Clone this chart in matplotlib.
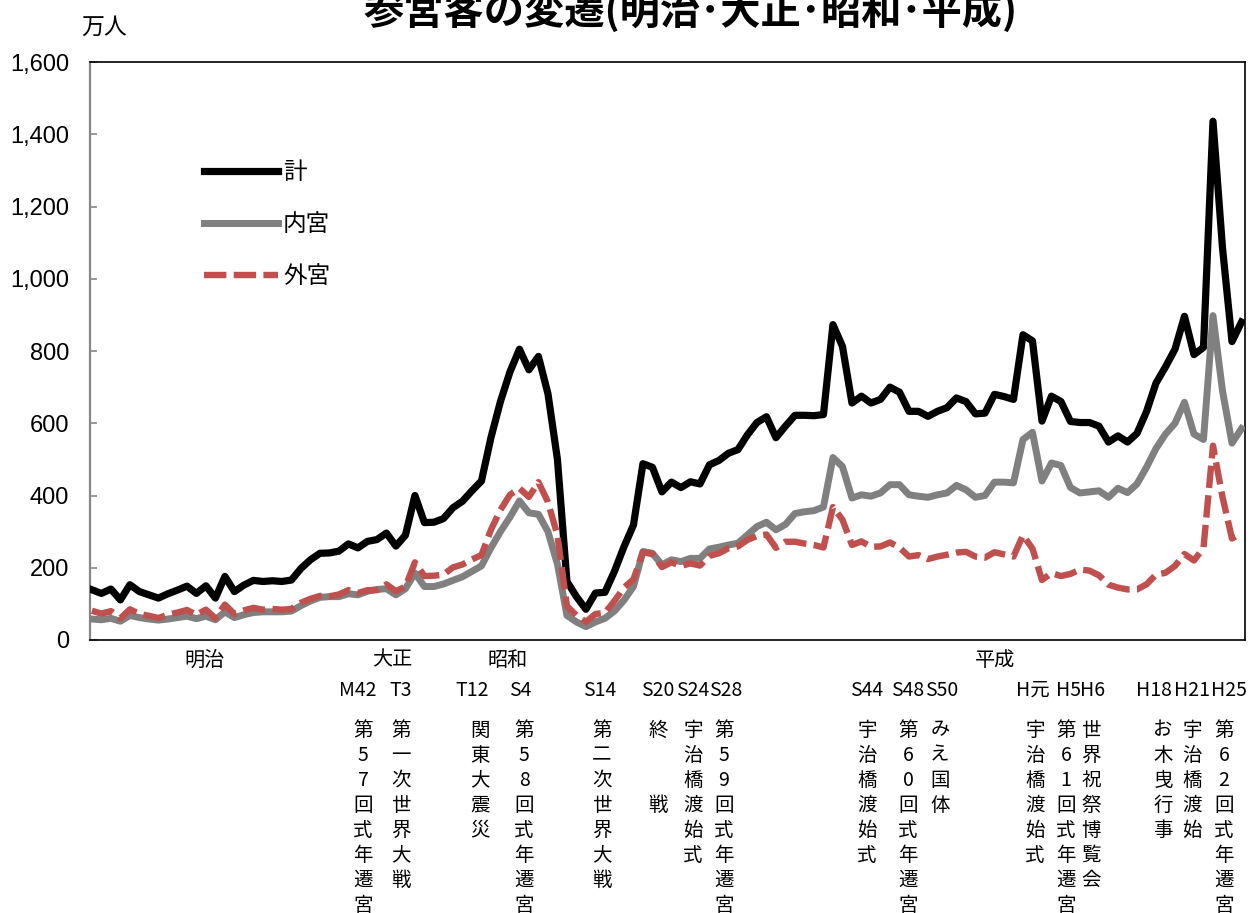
import matplotlib
matplotlib.use("Agg")
import matplotlib.pyplot as plt

CJK = ["Noto Sans CJK JP", "DejaVu Sans"]
plt.rcParams["font.family"] = CJK

# data: visitors per year (万人), 1895 (M28) .. 2016 (H28)
years = list(range(1895, 2017))

total = [
    139, 129, 141, 111, 153, 134, 125, 116, 128, 138,
    149, 129, 150, 116, 176, 134, 152, 165, 162, 164,
    162, 166, 198, 222, 240, 241, 246, 266, 255, 273,
    278, 296, 260, 290, 400, 325, 326, 336, 366, 384,
    413, 440, 560, 660, 742, 805, 748, 785, 682, 500,
    162, 120, 85, 130, 132, 190, 258, 318, 488, 478,
    410, 437, 422, 438, 432, 485, 497, 517, 527, 568,
    602, 618, 560, 592, 622, 622, 621, 624, 873, 813,
    656, 675, 656, 666, 700, 686, 633, 633, 619, 633,
    643, 670, 660, 626, 628, 680, 674, 666, 845, 828,
    606, 675, 660, 605, 602, 602, 592, 548, 565, 548,
    572, 632, 711, 756, 805, 896, 790, 810, 1436, 1086,
    826, 880,
]

naiku = [
    58, 56, 60, 52, 68, 62, 58, 55, 58, 62,
    66, 59, 66, 56, 78, 62, 70, 76, 78, 78,
    78, 80, 95, 108, 118, 120, 120, 128, 125, 135,
    140, 142, 125, 142, 185, 148, 148, 155, 165, 175,
    190, 205, 255, 300, 340, 385, 352, 348, 300, 210,
    68, 50, 37, 50, 60, 80, 110, 148, 245, 240,
    208, 222, 217, 226, 226, 252, 257, 263, 268, 291,
    314, 326, 305, 320, 350, 355, 358, 368, 505, 480,
    393, 402, 398, 407, 430, 430, 402, 398, 395, 402,
    407, 428, 416, 395, 400, 437, 437, 435, 555, 575,
    440, 490, 483, 422, 407, 410, 413, 395, 420, 408,
    432, 478, 530, 570, 600, 658, 570, 555, 898, 690,
    545, 585,
]

geku = [
    81, 73, 80, 60, 85, 72, 67, 61, 70, 76,
    83, 70, 84, 60, 98, 72, 82, 89, 84, 86,
    84, 86, 103, 114, 122, 121, 126, 138, 130, 138,
    138, 154, 135, 148, 215, 177, 178, 181, 201, 209,
    223, 235, 305, 360, 402, 420, 396, 437, 382, 290,
    94, 68, 50, 72, 75, 108, 145, 168, 243, 238,
    202, 215, 205, 212, 206, 233, 240, 254, 259, 277,
    288, 292, 255, 272, 272, 267, 263, 256, 368, 333,
    263, 273, 258, 259, 270, 256, 231, 235, 224, 231,
    236, 242, 244, 231, 228, 243, 237, 231, 290, 253,
    166, 185, 177, 183, 195, 192, 179, 153, 145, 140,
    140, 154, 181, 186, 205, 238, 220, 255, 538, 396,
    281, 295,
]

series_names = ["計", "内宮", "外宮"]

eras = ["明治", "大正", "昭和", "平成"]
event_codes = ["M42", "T3", "T12", "S4", "S14", "S20", "S24", "S28",
               "S44", "S48", "S50", "H元", "H5", "H6", "H18", "H21", "H25"]
event_texts = ["第57回式年遷宮", "第一次世界大戦", "関東大震災", "第58回式年遷宮",
               "第二次世界大戦", "終　　戦", "宇治橋渡始式", "第59回式年遷宮",
               "宇治橋渡始式", "第60回式年遷宮", "みえ国体", "宇治橋渡始式",
               "第61回式年遷宮", "世界祝祭博覧会", "お木曳行事", "宇治橋渡始",
               "第62回式年遷宮"]

# layout (pixel positions in the 1250x913 canvas)
W, H = 1250, 913
era_x = [205, 392, 508, 995]
code_x = [358, 401, 472, 520, 600, 658, 693, 726, 867, 908, 942, 1033, 1069, 1093, 1154, 1192, 1229]
col_x = [363, 401, 480, 524, 602, 658, 693, 724, 867, 908, 940, 1035, 1066, 1091, 1163, 1192, 1224]


def fx(x):
    return x / W


def fy(y):
    return 1 - y / H


fig = plt.figure(figsize=(12.5, 9.13), dpi=100)
ax = fig.add_axes([fx(90), fy(640), 1155 / W, 578 / H])

ax.plot(years, total, color="black", lw=5.2, label=series_names[0], zorder=3)
ax.plot(years, naiku, color="#808080", lw=5.0, label=series_names[1], zorder=3)
ax.plot(years, geku, color="#C0504D", lw=4.6, dashes=(3.5, 1.15),
        label=series_names[2], zorder=4)

ax.set_xlim(years[0] - 0.2, years[-1] + 0.37)
ax.set_ylim(0, 1600)
ax.set_yticks(range(0, 1601, 200))
ax.set_yticklabels([f"{v:,}" for v in range(0, 1601, 200)],
                   fontsize=17, family="Liberation Sans")
ax.tick_params(axis="y", direction="in", length=5, width=1.2, color="#868686", pad=15)
ax.set_xticks([])

for side in ["top", "right", "bottom"]:
    ax.spines[side].set_color("black")
    ax.spines[side].set_linewidth(1.2)
ax.spines["left"].set_color("#868686")
ax.spines["left"].set_linewidth(1.6)

ax.legend(loc="upper left", bbox_to_anchor=(0.0987, 0.828), frameon=False,
          fontsize=17, handlelength=3.15, handletextpad=0.2,
          labelspacing=1.22, borderpad=0, borderaxespad=0)

fig.text(fx(691), fy(24), "参宮客の変遷(明治･大正･昭和･平成)", ha="center",
         va="baseline", fontsize=29, fontweight="bold")
fig.text(fx(104), fy(27), "万人", ha="center", va="center", fontsize=16.5)

for name, x in zip(eras, era_x):
    fig.text(fx(x), fy(660), name, ha="center", va="center", fontsize=14.5)
for code, x in zip(event_codes, code_x):
    fig.text(fx(x), fy(690), code, ha="center", va="center", fontsize=14)
for text, x in zip(event_texts, col_x):
    for i, ch in enumerate(text):
        if ch.strip():
            fig.text(fx(x), fy(730 + 25 * i), ch, ha="center", va="center", fontsize=14)

fig.savefig("out.png", dpi=100)
